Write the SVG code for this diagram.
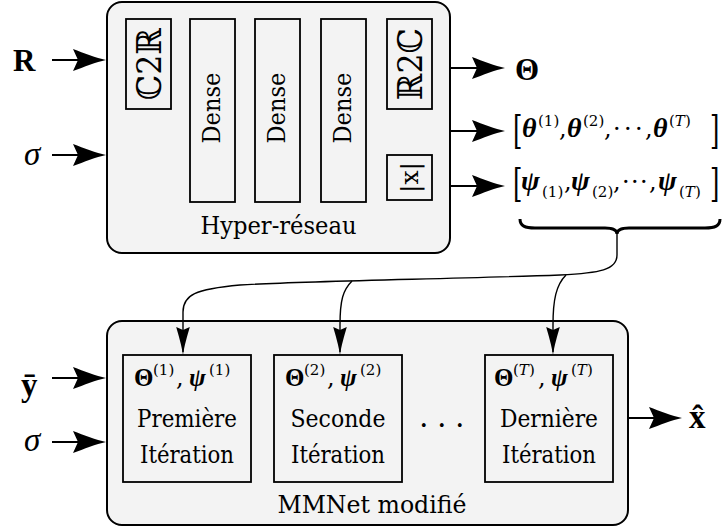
<svg xmlns="http://www.w3.org/2000/svg" width="723" height="531" viewBox="0 0 723 531">
<style>
text{fill:#000}
.c{text-anchor:middle}
.bb{font-size:34px}
.big{fill:#f3f3f3;stroke:#000;stroke-width:2}
.box{fill:#f3f3f3;stroke:#000;stroke-width:1.8}
.thick{fill:none;stroke:#000;stroke-width:2}
.thin{fill:none;stroke:#000;stroke-width:1.4}
.bi{font-weight:bold;font-style:italic}
.b{font-weight:bold}
.it{font-style:italic}
</style>
<defs>
<marker id="ah" markerUnits="userSpaceOnUse" markerWidth="40" markerHeight="26" refX="24" refY="13" orient="auto" viewBox="0 0 40 26">
<path d="M33,13 C23,11 11,6 0,2 L5,13 L0,24 C11,20 23,15 33,13 Z" fill="#000"/>
</marker>
<marker id="as" markerUnits="userSpaceOnUse" markerWidth="32" markerHeight="16" refX="25" refY="8" orient="auto" viewBox="0 0 32 16">
<path d="M28,8 C19,6.8 8,3.5 0,1.2 L3,8 L0,14.8 C8,12.5 19,9.2 28,8 Z" fill="#000"/>
</marker>
</defs>

<g font-family="DejaVu Serif, Liberation Serif, serif">
<g id="hypernet">
<rect class="big" x="107" y="2" width="343" height="251" rx="15"/>
<text class="c" font-size="24" x="278.5" y="234" textLength="156" lengthAdjust="spacingAndGlyphs">Hyper-réseau</text>
</g>
<g id="c2r">
<rect class="box" x="126" y="19" width="45" height="90"/>
<text class="bb c" transform="translate(161,64) rotate(-90)" textLength="72" lengthAdjust="spacingAndGlyphs">ℂ2ℝ</text>
</g>
<g id="dense1">
<rect class="box" x="190" y="19" width="45" height="183"/>
<text class="c" font-size="25" transform="translate(220,108) rotate(-90)" textLength="71" lengthAdjust="spacingAndGlyphs">Dense</text>
</g>
<g id="dense2">
<rect class="box" x="255" y="19" width="45" height="183"/>
<text class="c" font-size="25" transform="translate(285,108) rotate(-90)" textLength="71" lengthAdjust="spacingAndGlyphs">Dense</text>
</g>
<g id="dense3">
<rect class="box" x="321" y="19" width="45" height="183"/>
<text class="c" font-size="25" transform="translate(351,108) rotate(-90)" textLength="71" lengthAdjust="spacingAndGlyphs">Dense</text>
</g>
<g id="r2c">
<rect class="box" x="387" y="19" width="45" height="90"/>
<text class="bb c" transform="translate(422,64) rotate(-90)" textLength="72" lengthAdjust="spacingAndGlyphs">ℝ2ℂ</text>
</g>
<g id="abs">
<rect class="box" x="387" y="155" width="45" height="45"/>
<text class="c" font-size="25" transform="translate(418,177.5) rotate(-90)">|x|</text>
</g>

<g id="in-R"><text class="b" x="13" y="71" font-size="31" font-family="Liberation Serif, DejaVu Serif, serif">R</text></g>
<g id="in-sigma1"><text class="it" x="24" y="165" font-size="33" font-family="Liberation Serif, DejaVu Serif, serif">σ</text></g>
<g id="out-Theta"><text class="b" x="515" y="80" font-size="31" font-family="Liberation Serif, DejaVu Serif, serif">Θ</text></g>

<g id="out-theta">
<text transform="translate(513,143) scale(1,1.6)" font-size="24">[</text>
<text font-size="24">
<tspan class="bi" font-size="28" font-family="Liberation Serif, DejaVu Serif, serif" x="522" y="137">θ</tspan><tspan x="538" y="126" font-size="15">(1)</tspan><tspan x="559" y="137">,</tspan><tspan class="bi" font-size="28" font-family="Liberation Serif, DejaVu Serif, serif" x="567" y="137">θ</tspan><tspan x="583" y="126" font-size="15">(2)</tspan><tspan x="604" y="137">,</tspan><tspan x="613 624 635" y="137">···</tspan><tspan x="645" y="137">,</tspan><tspan class="bi" font-size="28" font-family="Liberation Serif, DejaVu Serif, serif" x="653" y="137">θ</tspan><tspan x="669" y="126" font-size="15">(<tspan class="it">T</tspan>)</tspan>
</text>
<text transform="translate(710,143) scale(1,1.6)" font-size="24">]</text>
</g>

<g id="out-psi">
<text transform="translate(513,196) scale(1,1.6)" font-size="24">[</text>
<text font-size="24">
<tspan class="bi" font-size="28" font-family="Liberation Serif, DejaVu Serif, serif" x="521" y="190">ψ</tspan><tspan x="542" y="197" font-size="15">(1)</tspan><tspan x="564" y="190">,</tspan><tspan class="bi" font-size="28" font-family="Liberation Serif, DejaVu Serif, serif" x="571" y="190">ψ</tspan><tspan x="592" y="197" font-size="15">(2)</tspan><tspan x="613" y="190">,</tspan><tspan x="622 631 640" y="190">···</tspan><tspan x="649" y="190">,</tspan><tspan class="bi" font-size="28" font-family="Liberation Serif, DejaVu Serif, serif" x="658" y="190">ψ</tspan><tspan x="679" y="197" font-size="15">(<tspan class="it">T</tspan>)</tspan>
</text>
<text transform="translate(710,196) scale(1,1.6)" font-size="24">]</text>
</g>

<g id="brace">
<path d="M520,219 C520,226 525,228 535,228 L605,228 C613,228 617,230 617,234 C617,230 621,228 629,228 L705,228 C715,228 720,226 720,219" fill="none" stroke="#000" stroke-width="3"/>
</g>

<g id="mmnet">
<rect class="big" x="107" y="321" width="521" height="204" rx="15"/>
<text class="c" font-size="24" x="372" y="513" textLength="189" lengthAdjust="spacingAndGlyphs">MMNet modifié</text>
<text font-size="30" x="419 437 455" y="427">...</text>
</g>
<g id="iter1" transform="translate(123,355)">
<rect class="box" x="0" y="0" width="128" height="127"/>
<text font-size="24"><tspan class="b" font-size="25" font-family="Liberation Serif, DejaVu Serif, serif" x="11" y="31">Θ</tspan><tspan x="30" y="20" font-size="15">(1)</tspan><tspan x="53" y="31">,</tspan><tspan class="bi" font-size="25" font-family="Liberation Serif, DejaVu Serif, serif" x="66" y="31">ψ</tspan><tspan x="86" y="20" font-size="15">(1)</tspan></text>
<text class="c" font-size="24" x="64" y="72" textLength="100" lengthAdjust="spacingAndGlyphs">Première</text>
<text class="c" font-size="24" x="64" y="108" textLength="94" lengthAdjust="spacingAndGlyphs">Itération</text>
</g>
<g id="iter2" transform="translate(274,355)">
<rect class="box" x="0" y="0" width="128" height="127"/>
<text font-size="24"><tspan class="b" font-size="25" font-family="Liberation Serif, DejaVu Serif, serif" x="11" y="31">Θ</tspan><tspan x="30" y="20" font-size="15">(2)</tspan><tspan x="53" y="31">,</tspan><tspan class="bi" font-size="25" font-family="Liberation Serif, DejaVu Serif, serif" x="66" y="31">ψ</tspan><tspan x="86" y="20" font-size="15">(2)</tspan></text>
<text class="c" font-size="24" x="64" y="72" textLength="95" lengthAdjust="spacingAndGlyphs">Seconde</text>
<text class="c" font-size="24" x="64" y="108" textLength="94" lengthAdjust="spacingAndGlyphs">Itération</text>
</g>
<g id="iter3" transform="translate(485,355)">
<rect class="box" x="0" y="0" width="128" height="127"/>
<text font-size="24"><tspan class="b" font-size="25" font-family="Liberation Serif, DejaVu Serif, serif" x="9" y="31">Θ</tspan><tspan x="28" y="20" font-size="15">(<tspan class="it">T</tspan>)</tspan><tspan x="53" y="31">,</tspan><tspan class="bi" font-size="25" font-family="Liberation Serif, DejaVu Serif, serif" x="66" y="31">ψ</tspan><tspan x="86" y="20" font-size="15">(<tspan class="it">T</tspan>)</tspan></text>
<text class="c" font-size="24" x="64" y="72" textLength="98" lengthAdjust="spacingAndGlyphs">Dernière</text>
<text class="c" font-size="24" x="64" y="108" textLength="94" lengthAdjust="spacingAndGlyphs">Itération</text>
</g>

<g id="in-ybar"><text class="b" x="21" y="396" font-size="33" font-family="Liberation Serif, DejaVu Serif, serif">ȳ</text></g>
<g id="in-sigma2"><text class="it" x="24" y="451" font-size="33" font-family="Liberation Serif, DejaVu Serif, serif">σ</text></g>
<g id="out-xhat"><text class="b" x="689" y="428" font-size="33" font-family="Liberation Serif, DejaVu Serif, serif">x̂</text></g>
</g>

<g id="connectors">
<path class="thick" marker-end="url(#ah)" d="M52,60 H97"/>
<path class="thick" marker-end="url(#ah)" d="M52,155 H97"/>
<path class="thick" marker-end="url(#ah)" d="M450,68 H496"/>
<path class="thick" marker-end="url(#ah)" d="M450,131 H496"/>
<path class="thick" marker-end="url(#ah)" d="M450,186 H496"/>
<path class="thick" marker-end="url(#ah)" d="M52,378 H97"/>
<path class="thick" marker-end="url(#ah)" d="M52,442 H97"/>
<path class="thick" marker-end="url(#ah)" d="M628,418 H673"/>
<path class="thin" marker-end="url(#as)" d="M617,232 V255 C617,270 600,273 560,275 C450,279 300,281 240,285 C195,289 183,295 183,312 V352"/>
<path class="thin" marker-end="url(#as)" d="M352,281 C343,290 340,300 340,325 V352"/>
<path class="thin" marker-end="url(#as)" d="M566,275 C556,285 553,300 553,325 V352"/>
</g>
</svg>
